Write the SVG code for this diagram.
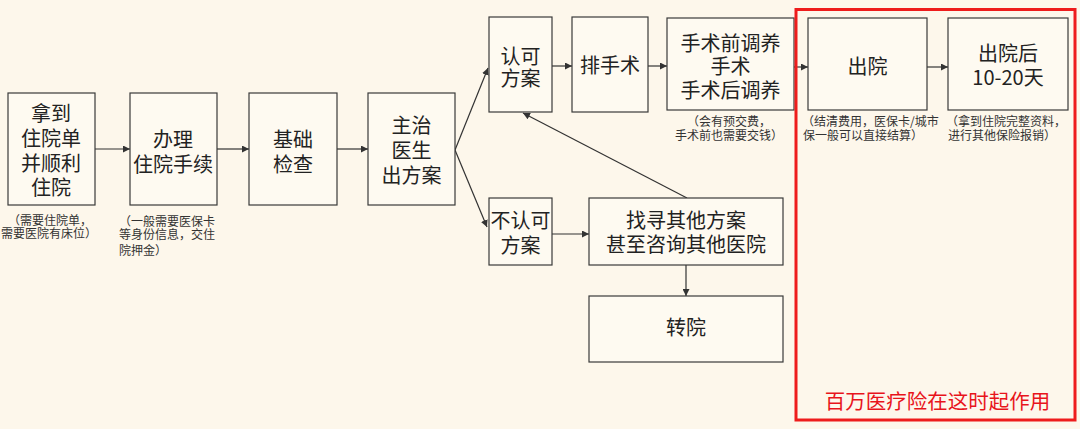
<svg xmlns="http://www.w3.org/2000/svg" width="1080" height="429" viewBox="0 0 1080 429">
<defs>
<marker id="arr" viewBox="0 0 10 10" refX="10" refY="5" markerWidth="7" markerHeight="7" markerUnits="userSpaceOnUse" orient="auto">
<path d="M0,0 L10,5 L0,10 z" fill="#333"/>
</marker>
<style>
.box{fill:#FEFAF1;stroke:#3a3a3a;stroke-width:1.2}
.t{font-family:"Noto Sans CJK SC","Noto Sans",sans-serif;font-size:20px;fill:#222;text-anchor:middle}
.n{font-family:"Noto Sans CJK SC","Noto Sans",sans-serif;font-size:12px;fill:#333}
.c{text-anchor:middle}
.ln{stroke:#333;stroke-width:1.2;fill:none;marker-end:url(#arr)}
.red{font-family:"Noto Sans CJK SC","Noto Sans",sans-serif;font-size:20.5px;fill:#E8141B;text-anchor:middle}
</style>
</defs>
<rect x="0" y="0" width="1080" height="429" fill="#FDF7EB"/>

<g id="connectors">
<line class="ln" x1="95" y1="149" x2="130" y2="149"/>
<line class="ln" x1="217" y1="149" x2="249" y2="149"/>
<line class="ln" x1="337" y1="149" x2="368" y2="149"/>
<line class="ln" x1="455" y1="150" x2="488" y2="68"/>
<line class="ln" x1="455" y1="150" x2="487" y2="227"/>
<line class="ln" x1="552" y1="66" x2="572" y2="66"/>
<line class="ln" x1="648" y1="66" x2="667" y2="66"/>
<line class="ln" x1="794" y1="67" x2="808" y2="67"/>
<line class="ln" x1="927" y1="67" x2="948" y2="67"/>
<line class="ln" x1="552" y1="234" x2="589" y2="234"/>
<line class="ln" x1="687" y1="198" x2="523" y2="113"/>
<line class="ln" x1="686" y1="265" x2="686" y2="296"/>
</g>

<g id="n1"><rect class="box" x="8" y="93" width="87" height="112"/>
<text class="t" x="51" y="120.5">拿到</text><text class="t" x="51" y="145.5">住院单</text><text class="t" x="51" y="170.5">并顺利</text><text class="t" x="51" y="194.5">住院</text></g>
<g id="note1"><text class="n c" x="50" y="225">（需要住院单，</text><text class="n c" x="49" y="238">需要医院有床位）</text></g>

<g id="n2"><rect class="box" x="130" y="93" width="87" height="112"/>
<text class="t" x="173" y="146.5">办理</text><text class="t" x="173" y="171.5">住院手续</text></g>
<g id="note2"><text class="n" x="119" y="226">（一般需要医保卡</text><text class="n" x="119" y="239">等身份信息，交住</text><text class="n" x="119" y="255">院押金）</text></g>

<g id="n3"><rect class="box" x="249" y="93" width="88" height="112"/>
<text class="t" x="293" y="146.5">基础</text><text class="t" x="293" y="171.5">检查</text></g>

<g id="n4"><rect class="box" x="368" y="93" width="87" height="112"/>
<text class="t" x="411.5" y="132.5">主治</text><text class="t" x="411.5" y="157.5">医生</text><text class="t" x="411.5" y="182.5">出方案</text></g>

<g id="n5"><rect class="box" x="489" y="17" width="63" height="95"/>
<text class="t" x="520.5" y="64">认可</text><text class="t" x="520.5" y="86">方案</text></g>

<g id="n6"><rect class="box" x="572" y="17" width="76" height="95"/>
<text class="t" x="610" y="72.5">排手术</text></g>

<g id="n7"><rect class="box" x="667" y="18" width="127" height="92"/>
<text class="t" x="730.5" y="50.5">手术前调养</text><text class="t" x="730.5" y="74">手术</text><text class="t" x="730.5" y="97.5">手术后调养</text></g>
<g id="note7"><text class="n c" x="729" y="126">（会有预交费，</text><text class="n c" x="729" y="140">手术前也需要交钱）</text></g>

<g id="n8"><rect class="box" x="808" y="18" width="119" height="92"/>
<text class="t" x="867.5" y="73.5">出院</text></g>
<g id="note8"><text class="n" x="802" y="126">（结清费用，医保卡/城市</text><text class="n" x="803" y="140">保一般可以直接结算）</text></g>

<g id="n9"><rect class="box" x="948" y="18" width="120" height="92"/>
<text class="t" x="1008" y="60.5">出院后</text><text class="t" x="1008" y="84.5">10-20天</text></g>
<g id="note9"><text class="n" x="946" y="126">（拿到住院完整资料，</text><text class="n" x="948" y="140">进行其他保险报销）</text></g>

<g id="n10"><rect class="box" x="489" y="198" width="63" height="67"/>
<text class="t" x="520.5" y="227.5">不认可</text><text class="t" x="520.5" y="252.5">方案</text></g>

<g id="n11"><rect class="box" x="589" y="198" width="194" height="67"/>
<text class="t" x="686" y="227.5">找寻其他方案</text><text class="t" x="686" y="251.5">甚至咨询其他医院</text></g>

<g id="n12"><rect class="box" x="589" y="296" width="194" height="66"/>
<text class="t" x="686" y="334.5">转院</text></g>

<g id="highlight"><rect x="796" y="9.5" width="279" height="410.5" fill="none" stroke="#EE1C1C" stroke-width="3"/>
<text class="red" x="937.5" y="408.5">百万医疗险在这时起作用</text></g>
</svg>
